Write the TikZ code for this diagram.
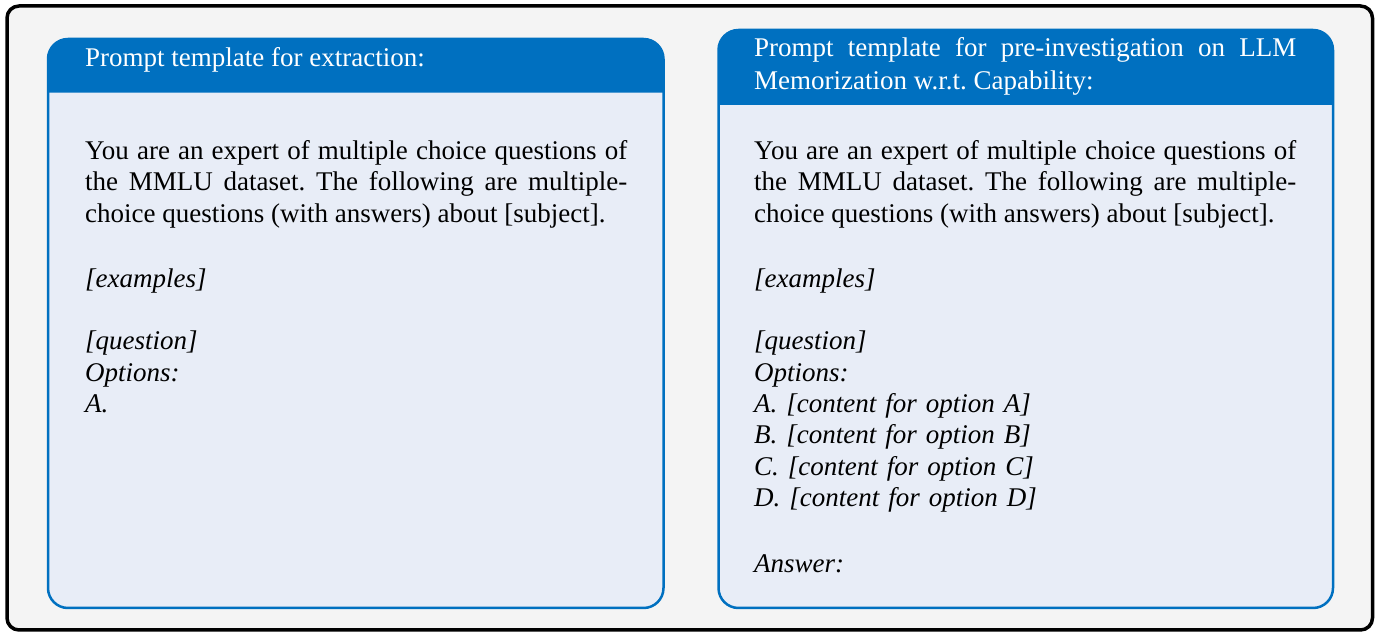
\documentclass[tikz,border=0pt]{standalone}
\usepackage{fontspec}
\setmainfont{Liberation Serif}
\frenchspacing
\definecolor{hdrblue}{RGB}{0,112,192}
\definecolor{bodyblue}{RGB}{232,237,247}
\definecolor{bggray}{RGB}{244,244,244}
\begin{document}
\begin{tikzpicture}[x=1pt,y=1pt,
  frame/.style={draw=black,line width=3.5pt,fill=bggray,rounded corners=12pt},
  boxbody/.style={fill=bodyblue},
  boxline/.style={draw=hdrblue,line width=2.5pt,rounded corners=20pt},
  hdrtext/.style={anchor=base west,inner sep=0pt,text=white,text width=542pt,align=justify,font=\fontsize{27}{32.6}\selectfont\frenchspacing},
  bodytext/.style={anchor=base west,inner sep=0pt,text=black,text width=542pt,align=justify,font=\fontsize{27}{31.3}\selectfont\frenchspacing}]
\useasboundingbox (0,0) rectangle (1377,632);
\path[frame] (7,626) rectangle (1372.5,2);
% left box
\path[boxbody,rounded corners=20pt] (48,24) rectangle (663.5,593);
\fill[hdrblue] (48,539.3) -- (48,573) arc[start angle=180,end angle=90,radius=20] -- (643.5,593) arc[start angle=90,end angle=0,radius=20] -- (663.5,539.3) -- cycle;
\path[boxline] (48,24) rectangle (663.5,593);
% right box
\path[boxbody,rounded corners=20pt] (718.5,24) rectangle (1333,602);
\fill[hdrblue] (718.5,527) -- (718.5,582) arc[start angle=180,end angle=90,radius=20] -- (1313,602) arc[start angle=90,end angle=0,radius=20] -- (1333,527) -- cycle;
\path[boxline] (718.5,24) rectangle (1333,602);
% left texts
\node[hdrtext] (lh) at (85,565.3) {Prompt template for extraction:};
\node[bodytext] (lp) at (85,472.5) {You are an expert of multiple choice questions of\linebreak the MMLU dataset. The following are multiple-\linebreak choice questions (with answers) about [subject].};
\node[bodytext] (le) at (85,344) {\itshape [examples]};
\node[bodytext,align=left] (lq) at (85,282) {\itshape [question]\\Options:\\A.};
% right texts
\node[hdrtext] (rh) at (754,575.3) {Prompt template for pre-investigation on LLM\linebreak Memorization w.r.t. Capability:};
\node[bodytext] (rp) at (754,472.5) {You are an expert of multiple choice questions of\linebreak the MMLU dataset. The following are multiple-\linebreak choice questions (with answers) about [subject].};
\node[bodytext] (re) at (754,344) {\itshape [examples]};
\node[bodytext,align=left] (rq) at (754,282) {\itshape [question]\\Options:\\A. [content for option A]\\B. [content for option B]\\C. [content for option C]\\D. [content for option D]};
\node[bodytext] (ra) at (754,59.7) {\itshape Answer:};
\end{tikzpicture}
\end{document}
